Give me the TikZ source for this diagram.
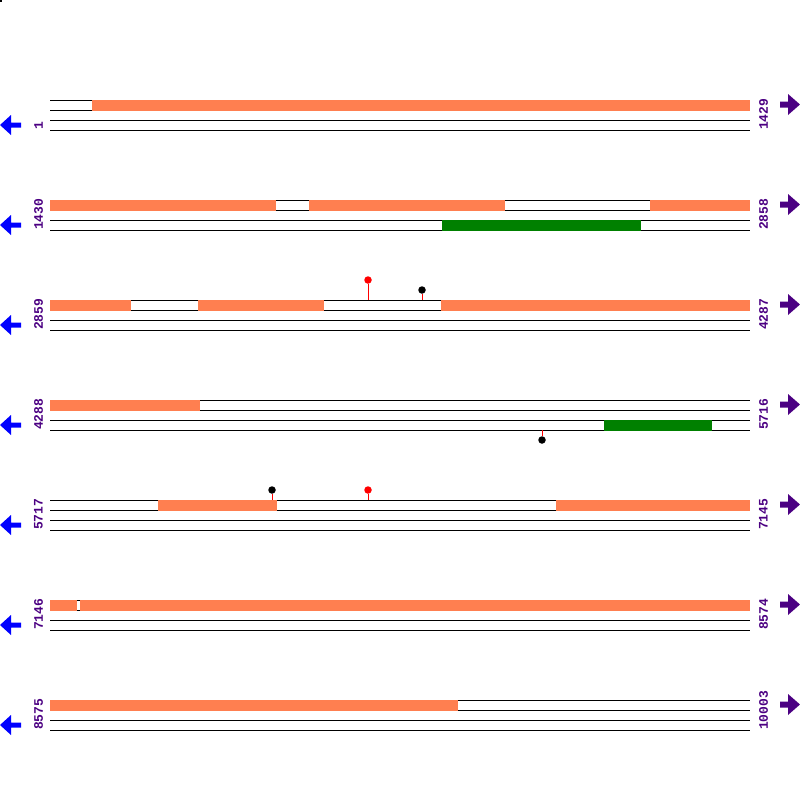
\documentclass[tikz,border=0pt]{standalone}
\usepackage{fontspec}
\setmonofont{Liberation Mono}
\usepackage{tikz}
\usetikzlibrary{positioning}

\definecolor{coralbar}{HTML}{FF7F50}
\definecolor{cdsgreen}{HTML}{008000}
\definecolor{numpurple}{HTML}{4B0082}

\begin{document}
\begin{tikzpicture}[x=1pt,y=-1pt,
  track/.style={black,line width=1pt},
  featbar/.style={fill=coralbar},
  cdsbar/.style={fill=cdsgreen},
  posnum/.style={text=numpurple,font=\ttfamily\bfseries\fontsize{13}{13}\selectfont,
    rotate=90,anchor=west,inner sep=0pt},
  pin/.style={circle,fill=#1,inner sep=0pt,minimum size=7.5pt},
  stem/.style={red,line width=1pt}]
\useasboundingbox (0,0) rectangle (800,800);
\fill (0,0) rectangle (2,2);

% rows: tracks, positions, strand arrows
\foreach \r/\s/\e in {1/1/1429,2/1430/2858,3/2859/4287,4/4288/5716,
    5/5717/7145,6/7146/8574,7/8575/10003} {
  \pgfmathsetmacro\y{100*\r}
  \foreach \t in {0,10,20,30}
    \draw[track] (50,\y+\t) -- (750,\y+\t);
  \node[posnum] (s\r) at (38.5,\y+30) {\s};
  \node[posnum] (e\r) at (763.5,\y+30) {\e};
  \fill[blue] (0,\y+25) -- ++(11,-10) -- ++(0,7.5) -- ++(10,0) -- ++(0,5)
    -- ++(-10,0) -- ++(0,7.5) -- cycle;
  \fill[numpurple] (800,\y+4.5) -- ++(-12,-10.5) -- ++(0,7.5) -- ++(-8,0)
    -- ++(0,6) -- ++(8,0) -- ++(0,7.5) -- cycle;
}

% features
\foreach \y/\a/\b in {100/92/750,200/50/276,200/309/505,200/650/750,
    300/50/131,300/198/324,300/441/750,400/50/200,
    500/158/277,500/556/750,600/50/77,600/80/750,700/50/458}
  \fill[featbar] (\a,\y-0.5) rectangle (\b,\y+10.5);
\foreach \y/\a/\b in {220/442/641,420/604/712}
  \fill[cdsbar] (\a,\y-0.5) rectangle (\b,\y+10.5);

% sites
\foreach \i/\x/\ya/\yb/\c in {1/368/300/280/red,2/422/300/290/black,
    3/542/430/440/black,4/272/500/490/black,5/368/500/490/red} {
  \coordinate (m\i) at (\x,\ya);
  \node[pin=\c] (p\i) at (\x,\yb) {};
  \draw[stem] (m\i) -- (p\i);
}
\end{tikzpicture}
\end{document}
